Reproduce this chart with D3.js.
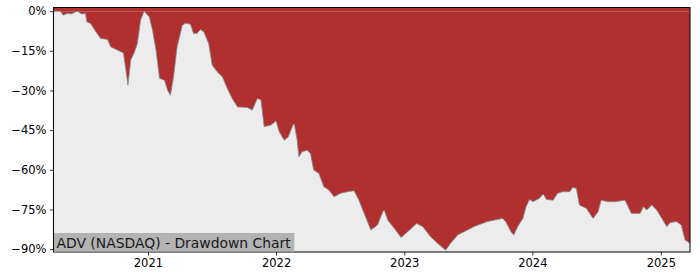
<!DOCTYPE html>
<html>
<head>
<meta charset="utf-8">
<script src="https://cdn.jsdelivr.net/npm/d3@7"></script>
<style>
  html, body { margin: 0; padding: 0; background: #ffffff; }
  svg { display: block; font-family: "DejaVu Sans", sans-serif; }
</style>
</head>
<body>
<svg id="chart" width="700" height="280"></svg>
<script>
// ---- data ----
const dates = [
  "2020-04-07","2020-04-26","2020-05-05","2020-05-15","2020-05-29","2020-06-13","2020-06-27","2020-07-07",
  "2020-07-11","2020-07-21","2020-08-09","2020-08-19","2020-09-08","2020-09-17","2020-10-06","2020-10-23",
  "2020-10-29","2020-11-05","2020-11-13","2020-11-22","2020-12-02","2020-12-11","2020-12-21",
  "2021-01-05","2021-01-14","2021-01-24","2021-02-03","2021-02-17","2021-02-26","2021-03-06","2021-03-15",
  "2021-03-25","2021-04-09","2021-04-18","2021-05-02","2021-05-11","2021-05-21","2021-05-30","2021-06-09",
  "2021-06-23","2021-07-03","2021-07-17","2021-08-01","2021-08-15","2021-08-29","2021-09-13","2021-10-11",
  "2021-10-25","2021-11-09","2021-11-19","2021-11-28","2021-12-17",
  "2022-01-01","2022-01-10","2022-01-24","2022-02-05","2022-02-18","2022-02-22","2022-03-02","2022-03-07",
  "2022-03-16","2022-03-30","2022-04-09","2022-04-18","2022-05-03","2022-05-17","2022-06-01","2022-06-15",
  "2022-07-04","2022-07-23","2022-08-11","2022-08-25","2022-09-09","2022-09-28","2022-10-17","2022-11-01",
  "2022-11-05","2022-11-15","2022-12-04","2022-12-23",
  "2023-01-11","2023-02-05","2023-02-23","2023-03-17","2023-04-06","2023-04-29","2023-05-13","2023-06-02",
  "2023-07-09","2023-07-18","2023-08-26","2023-09-15","2023-10-08","2023-10-17","2023-11-01","2023-11-09",
  "2023-11-20","2023-12-05","2023-12-14","2023-12-24",
  "2024-01-03","2024-01-21","2024-02-01","2024-02-10","2024-02-29","2024-03-13","2024-03-27","2024-04-16",
  "2024-04-25","2024-05-05","2024-05-14","2024-06-03","2024-06-22","2024-07-06","2024-07-15","2024-08-04",
  "2024-08-23","2024-09-21","2024-09-30","2024-10-09","2024-11-03","2024-11-12","2024-11-22","2024-12-06",
  "2024-12-20",
  "2025-01-04","2025-01-18","2025-01-27","2025-02-14","2025-02-28","2025-03-11","2025-03-25"
];
const drawdown = [
  0.0, 0.0, -1.5, -0.9, -1.0, 0.0, -1.1, -0.9,
  -4.0, -4.6, -8.4, -10.3, -10.7, -13.5, -14.7, -15.8,
  -21.1, -28.0, -18.5, -16.0, -12.2, -3.4, 0.0,
  -2.2, -7.2, -14.7, -25.4, -26.1, -29.9, -31.8, -24.8,
  -13.5, -5.3, -4.6, -4.9, -8.4, -8.4, -6.9, -7.8,
  -12.2, -20.4, -22.9, -24.8, -29.2, -33.0, -36.2, -36.4,
  -37.4, -33.0, -33.6, -43.7, -43.1,
  -41.5, -45.6, -48.8, -47.5, -43.1, -42.7, -48.8, -55.1,
  -53.2, -52.6, -53.8, -60.1, -61.4, -66.4, -67.7, -70.2,
  -68.9, -68.3, -67.9, -71.5, -76.5, -82.8, -80.9, -75.9,
  -75.2, -79.0, -82.2, -85.6,
  -83.4, -80.3, -81.5, -85.3, -87.8, -90.4, -87.8, -84.7,
  -82.2, -81.5, -79.6, -79.0, -78.4, -79.6, -83.4, -84.7,
  -81.5, -78.4, -74.0, -71.2,
  -72.1, -70.8, -69.2, -71.2, -71.5, -68.9, -68.3, -68.3,
  -66.7, -67.0, -73.3, -74.6, -78.4, -75.9, -71.5, -72.1,
  -72.1, -71.5, -74.0, -76.5, -76.5, -74.0, -75.2, -73.3,
  -75.2,
  -78.4, -81.5, -80.0, -79.6, -80.9, -86.6, -87.8
];
const yTicks = [0, -15, -30, -45, -60, -75, -90];
const xTickYears = [2021, 2022, 2023, 2024, 2025];
const yDomain = [-91.1, 1.4];
const title = "ADV (NASDAQ) - Drawdown Chart";

// ---- layout ----
const W = 700, H = 280;
const m = { left: 53.5, top: 7.5, right: 10, bottom: 28 };
const pw = W - m.left - m.right, ph = H - m.top - m.bottom;

const parse = d3.timeParse("%Y-%m-%d");
const data = dates.map((d, i) => ({ date: parse(d), v: drawdown[i] }));

const svg = d3.select("#chart");
const g = svg.append("g").attr("transform", `translate(${m.left},${m.top})`);

const x = d3.scaleTime().domain(d3.extent(data, d => d.date)).range([0, pw]);
const y = d3.scaleLinear().domain(yDomain).range([ph, 0]);

g.append("rect").attr("x", 0).attr("y", 0).attr("width", pw).attr("height", ph).attr("fill", "#ececec");

const area = d3.area().x(d => x(d.date)).y0(y(0)).y1(d => y(d.v));
g.append("path").datum(data).attr("d", area).attr("fill", "#b03030");
g.append("rect").attr("x", 0).attr("y", 0).attr("width", pw).attr("height", y(0)).attr("fill", "#b03030");

const line = d3.line().x(d => x(d.date)).y(d => y(d.v));
g.append("path").datum(data).attr("d", line).attr("fill", "none")
  .attr("stroke", "#8a8a8a").attr("stroke-width", 0.8);

// axes
const fmt = v => (v < 0 ? "\u2212" + Math.abs(v) : String(v)) + "%";
const yAxis = d3.axisLeft(y).tickValues(yTicks).tickFormat(fmt).tickSize(3.5).tickPadding(3.5);
const yg = g.append("g").call(yAxis);
const xAxis = d3.axisBottom(x).tickValues(xTickYears.map(yr => new Date(yr, 0, 1)))
  .tickFormat(d3.timeFormat("%Y")).tickSize(3.5).tickPadding(3.5);
const xg = g.append("g").attr("transform", `translate(0,${ph})`).call(xAxis);
[yg, xg].forEach(a => {
  a.select(".domain").remove();
  a.selectAll("line").attr("stroke", "#000").attr("stroke-width", 0.8);
  a.selectAll("text").attr("fill", "#000").style("font-size", "11.5px").style("font-family", "DejaVu Sans");
});

// frame
g.append("rect").attr("x", 0).attr("y", 0).attr("width", pw).attr("height", ph)
  .attr("fill", "none").attr("stroke", "#000").attr("stroke-width", 1);

// title label
const lbl = g.append("g");
const txt = lbl.append("text").attr("x", 3).attr("y", ph - 4.5)
  .style("font-size", "13.9px").style("font-family", "DejaVu Sans").attr("fill", "#1a1a1a").text(title);
const bb = txt.node().getBBox();
lbl.insert("rect", "text").attr("x", 0.5).attr("y", ph - 19).attr("width", bb.width + 5.5).attr("height", 18.5)
  .attr("fill", "#b3b3b3");
</script>
</body>
</html>
